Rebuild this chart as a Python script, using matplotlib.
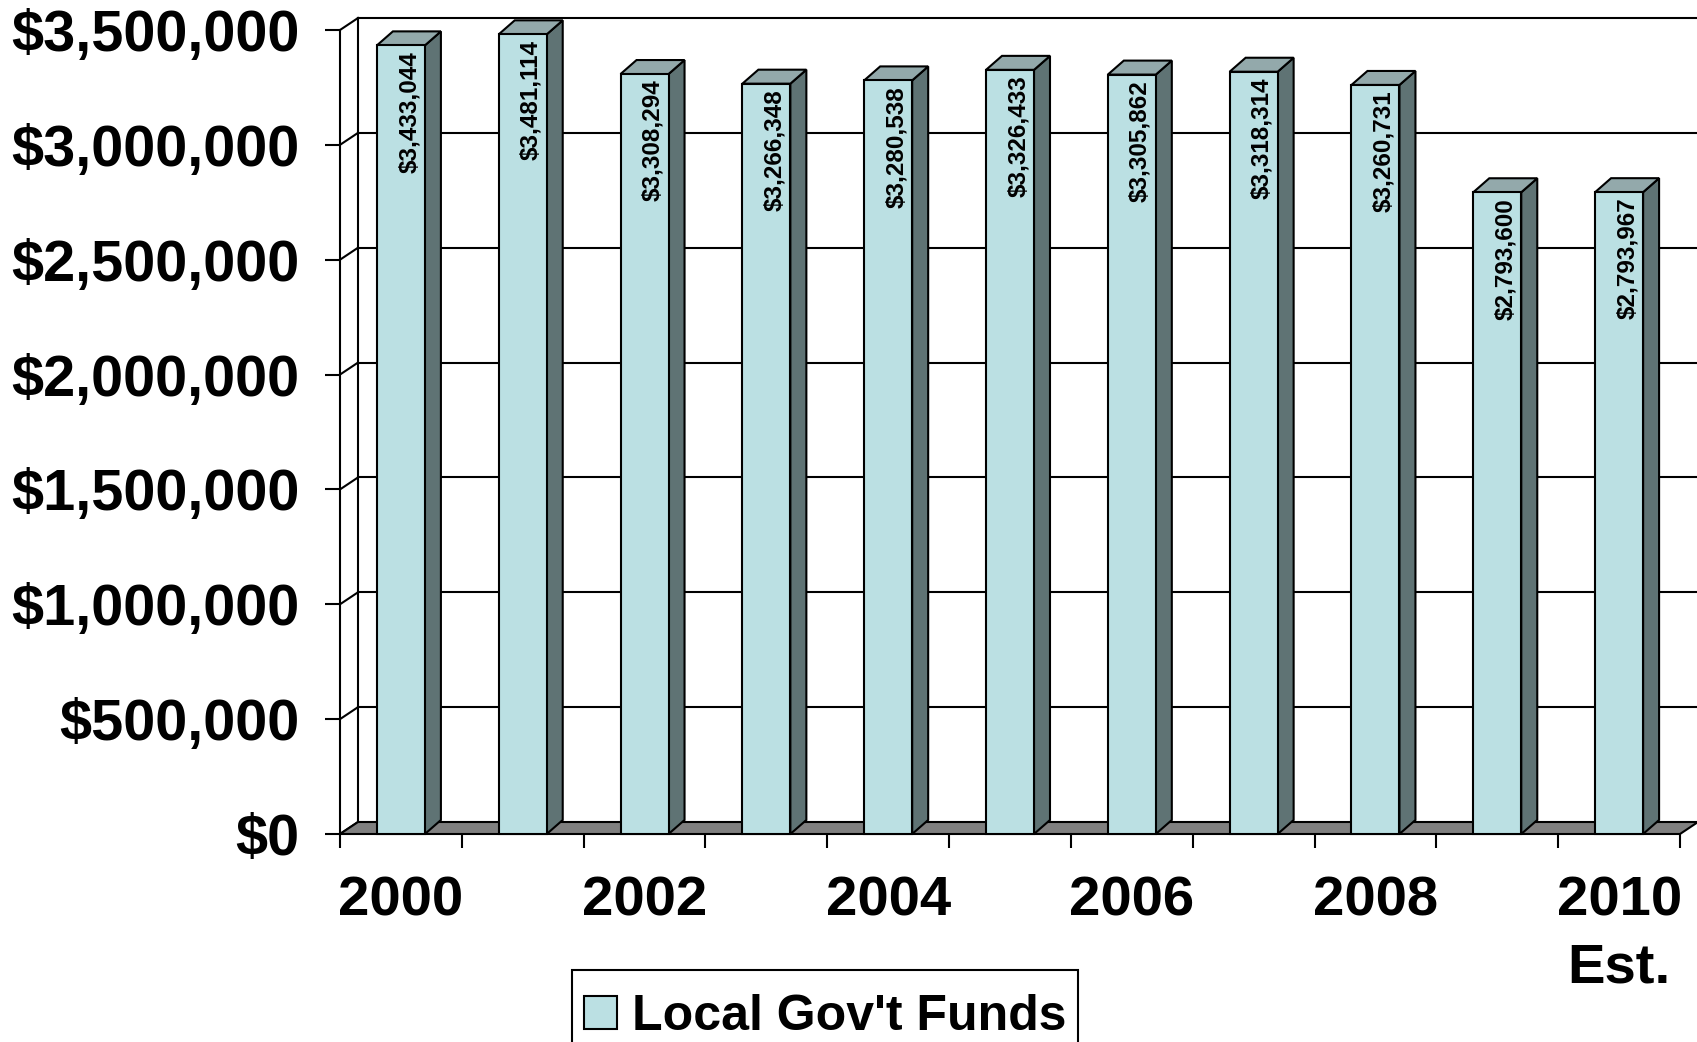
import matplotlib.pyplot as plt
from matplotlib.patches import Polygon

# values
years = ['2000', '2001', '2002', '2003', '2004', '2005',
         '2006', '2007', '2008', '2009', '2010']
funds = [3433044, 3481114, 3308294, 3266348, 3280538, 3326433,
         3305862, 3318314, 3260731, 2793600, 2793967]
year_labels = ['2000', '2002', '2004', '2006', '2008', '2010\nEst.']
y_ticks = [0, 500000, 1000000, 1500000, 2000000, 2500000, 3000000, 3500000]
y_labels = ['$0', '$500,000', '$1,000,000', '$1,500,000', '$2,000,000',
            '$2,500,000', '$3,000,000', '$3,500,000']

FRONT = '#bbe0e3'
SIDE = '#5f7374'
TOP = '#93a9ab'
FLOOR = '#808080'

plt.rcParams['font.family'] = ['Liberation Sans', 'DejaVu Sans']
plt.rcParams['font.weight'] = 'bold'

fig = plt.figure(figsize=(16.97, 10.42), dpi=100)
ax = fig.add_axes([340 / 1697, 1 - 834 / 1042, 1340 / 1697, 804 / 1042])
ax.set_xlim(-0.5, len(years) - 0.5)
ax.set_ylim(0, 3500000)

x = list(range(len(years)))


def depth(px, py):
    # pixel offset -> data offset
    inv = ax.transData.inverted()
    x0, y0 = inv.transform((0, 0))
    x1, y1 = inv.transform((px, py))
    return x1 - x0, y1 - y0


wdx, wdy = depth(18, 12)   # walls
bdx, bdy = depth(16, 14)   # bars
bw = depth(48, 0)[0]
x_lo, x_hi = -0.5, len(years) - 0.5
y_top = y_ticks[-1]

# back wall + side wall lines
for t in y_ticks[1:]:
    ax.plot([x_lo + wdx, x_hi + wdx], [t + wdy, t + wdy], color='black', lw=1.5, clip_on=False, zorder=1)
for t in y_ticks:
    ax.plot([x_lo, x_lo + wdx], [t, t + wdy], color='black', lw=1.5, clip_on=False, zorder=1)
ax.plot([x_lo + wdx, x_lo + wdx], [wdy, y_top + wdy], color='black', lw=1.5, clip_on=False, zorder=1)

# floor
ax.add_patch(Polygon([(x_lo, 0), (x_hi, 0), (x_hi + wdx, wdy), (x_lo + wdx, wdy)],
                     closed=True, facecolor=FLOOR, edgecolor='black', lw=1.5,
                     clip_on=False, zorder=2))

bars = ax.bar(x, funds, width=bw, color=FRONT, edgecolor='black', linewidth=1.5,
              zorder=4, clip_on=False)
for xi, v in zip(x, funds):
    l, r = xi - bw / 2, xi + bw / 2
    ax.add_patch(Polygon([(r, 0), (r + bdx, bdy), (r + bdx, v + bdy), (r, v)],
                         closed=True, facecolor=SIDE, edgecolor='black', lw=1.5,
                         clip_on=False, zorder=3))
    ax.add_patch(Polygon([(l, v), (r, v), (r + bdx, v + bdy), (l + bdx, v + bdy)],
                         closed=True, facecolor=TOP, edgecolor='black', lw=1.5,
                         clip_on=False, zorder=3))
    ax.annotate(f'${v:,}', (xi, v), xytext=(6, -4), textcoords='offset points',
                rotation=90, ha='center', va='top', fontsize=17.5,
                fontweight='bold', zorder=5)

for s in ['top', 'right', 'bottom']:
    ax.spines[s].set_visible(False)
ax.spines['left'].set_linewidth(1.5)

ax.set_yticks(y_ticks, y_labels)
ax.tick_params(axis='y', length=11, width=1.5, pad=18, labelsize=41.5)

ax.set_xticks([i - 0.5 for i in range(len(years) + 1)], [''] * (len(years) + 1))
ax.set_xticks(x[::2], year_labels, minor=True)
ax.tick_params(axis='x', which='major', length=10, width=1.5)
ax.tick_params(axis='x', which='minor', length=0, pad=30, labelsize=40.5)
for lab in ax.get_xticklabels(minor=True):
    lab.set_linespacing(1.37)

# legend box runs off the bottom edge like the original
leg = fig.legend([bars], ["Local Gov't Funds"], loc='lower center',
                 bbox_to_anchor=(825 / 1697, -0.010), fontsize=36, fancybox=False,
                 edgecolor='black', framealpha=1, handlelength=0.65,
                 handleheight=0.65, handletextpad=0.3, borderpad=0.25,
                 borderaxespad=0, title=' ', title_fontsize=3, labelspacing=0.15)
leg.get_frame().set_linewidth(1.5)

fig.savefig('out.png', dpi=100)
